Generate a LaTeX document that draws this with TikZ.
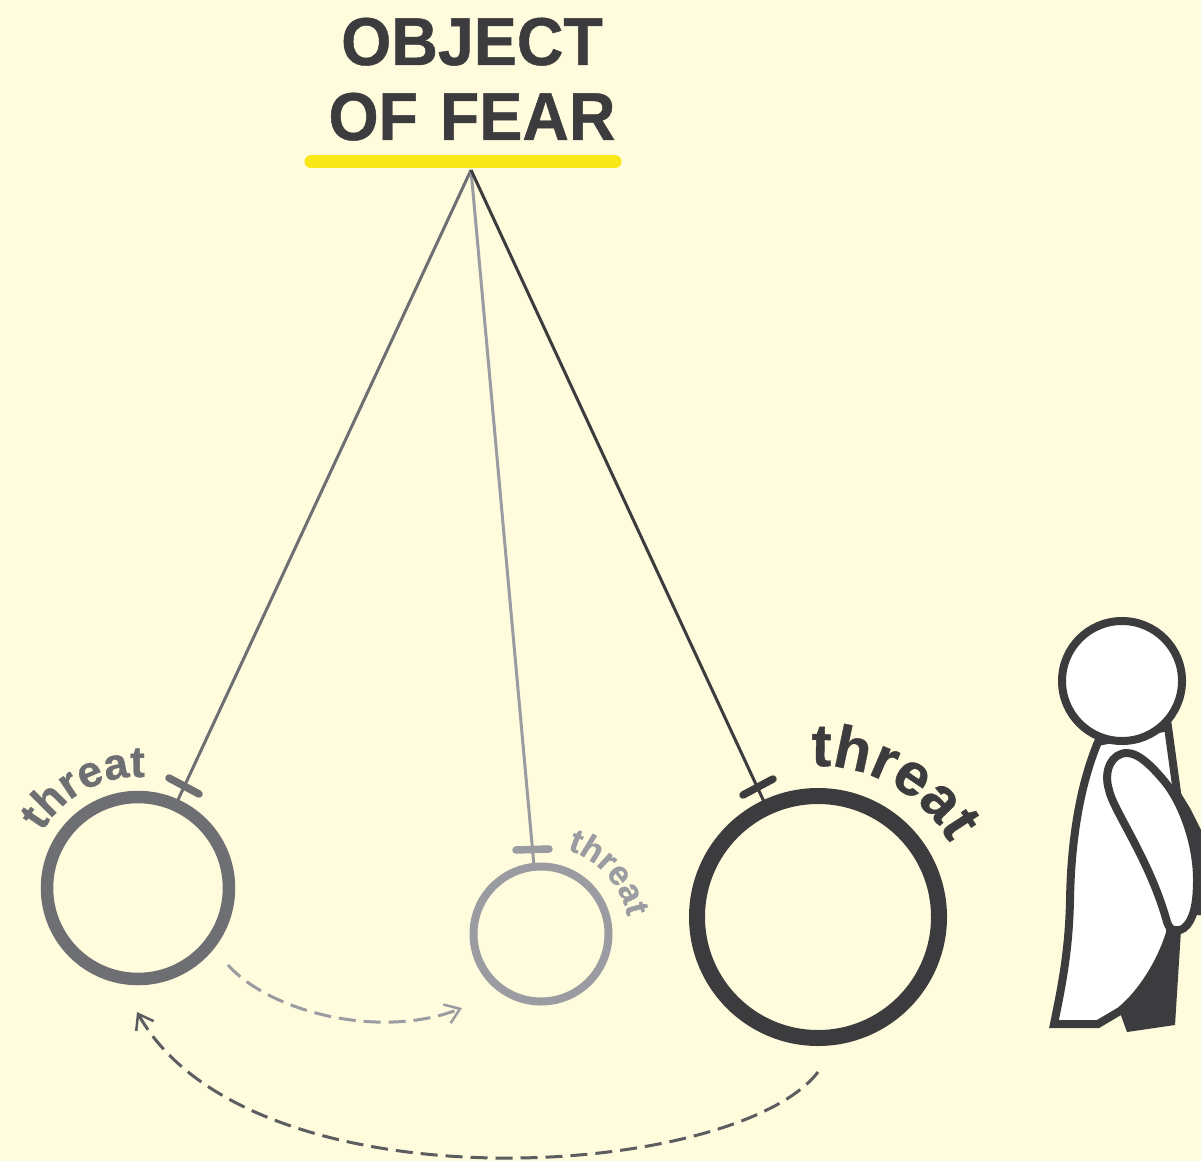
\documentclass[tikz,border=0pt]{standalone}
\usepackage{fontspec}
\setmainfont{Liberation Sans}[BoldFeatures={FakeBold=0.7}]
\usetikzlibrary{decorations.text,arrows.meta}
\definecolor{bgc}{HTML}{FEFCDC}
\definecolor{darkc}{HTML}{3C3C3E}
\definecolor{midc}{HTML}{6E6F73}
\definecolor{swingc}{HTML}{5C5D61}
\definecolor{lightc}{HTML}{9A9CA1}
\definecolor{yel}{HTML}{F9E815}
\tikzset{
 x=1pt,y=1pt,
 ring/.style={circle,draw,inner sep=0pt,fill=none},
 tbar/.style={line width=7.5pt,line cap=round},
 hang/.style={line width=3pt},
 swing/.style={line width=3pt,dash pattern=on 17pt off 8pt,-{Straight Barb[length=14pt,width=20pt,line width=2.5pt]}},
 figline/.style={draw=darkc,line width=8pt,line join=miter,miter limit=10,fill=white},
 title/.style={font=\fontsize{64.5}{64.5}\selectfont\bfseries,text=darkc,inner sep=0pt,anchor=base,yscale=1.05,transform shape}
}
\begin{document}
\begin{tikzpicture}
\useasboundingbox[fill=bgc] (0,0) rectangle (1201,-1161);
\node[title] (t1) at (472,-65) {OBJECT};
\node[title] (t2) at (472,-140) {OF\hspace{4pt} FEAR};
\draw[yel,line width=13pt,line cap=round] (311,-162) -- (615,-162);
\coordinate (apex) at (471,-170);
% rings
\node[ring,draw=midc,line width=12.5pt,minimum size=182pt] (r1) at (138,-888) {};
\node[ring,draw=lightc,line width=8pt,minimum size=135pt] (r2) at (541,-934) {};
\node[ring,draw=darkc,line width=16pt,minimum size=242pt] (r3) at (818,-917) {};
% hangers
\coordinate (e1) at (177,-802);
\coordinate (e2) at (534,-866);
\coordinate (e3) at (766,-806);
\draw[midc,hang] (apex) -- (e1);
\draw[lightc,hang] (apex) -- (e2);
\draw[darkc,hang] (apex) -- (e3);
\coordinate (b1a) at (169,-778); \coordinate (b1b) at (199,-794);
\coordinate (b2a) at (516,-850); \coordinate (b2b) at (549,-849);
\coordinate (b3a) at (743,-795); \coordinate (b3b) at (773,-779);
\draw[midc,tbar] (b1a) -- (b1b);
\draw[lightc,tbar] (b2a) -- (b2b);
\draw[darkc,tbar] (b3a) -- (b3b);
% curved labels
\path[decorate,decoration={text along path,text align=center,text color=midc,
 text format delimiters={|}{|},
 text={|\fontsize{44}{44}\selectfont\bfseries|threat}}]
 (138,-888) ++(166:111pt) arc[start angle=166,end angle=70,radius=111pt];
\path[decorate,decoration={text along path,text align=center,text color=lightc,
 text format delimiters={|}{|},
 text={|\fontsize{34}{34}\selectfont\bfseries|threat}}]
 (541,-934) ++(100:88pt) arc[start angle=100,end angle=-16,radius=88pt];
\path[decorate,decoration={text along path,text align=center,text color=darkc,
 text format delimiters={|}{|},
 text={|\fontsize{60}{60}\selectfont\bfseries|threat}}]
 (818,-917) ++(110:151pt) arc[start angle=110,end angle=12,radius=151pt];
% swings
\coordinate (s1) at (228,-965); \coordinate (s1e) at (462,-1008);
\draw[lightc,swing] (s1) .. controls (270,-1012) and (380,-1040) .. (s1e);
\coordinate (s2) at (818,-1072); \coordinate (s2e) at (137,-1012);
\draw[swingc,swing] (s2) .. controls (735,-1180) and (250,-1212) .. (s2e);
% figure
\fill[darkc] (1177,-787) -- (1190,-808) -- (1201,-830) -- (1201,-915) -- (1185,-915) -- (1170,-900) -- cycle;
\fill[darkc] (1168,-930) -- (1181,-930) -- (1175,-1025) -- (1127,-1032) -- (1119,-1010) -- cycle;
\path[figline] (1098,-742) .. controls (1080,-785) and (1071,-840) .. (1070,-900)
 .. controls (1069,-950) and (1062,-985) .. (1054,-1024) -- (1098,-1024) -- (1120,-1011)
 .. controls (1140,-995) and (1160,-965) .. (1170,-933)
 -- (1178,-800) -- (1168,-727) -- cycle;
\path[figline] (1127,-753) .. controls (1112,-753) and (1103,-770) .. (1109,-790)
 .. controls (1113,-810) and (1150,-860) .. (1167,-922)
 .. controls (1170,-932) and (1178,-932) .. (1184,-928)
 .. controls (1193,-921) and (1197,-905) .. (1197,-880)
 .. controls (1197,-840) and (1180,-800) .. (1165,-782)
 .. controls (1155,-770) and (1140,-753) .. (1127,-753) -- cycle;
\node[circle,draw=darkc,fill=white,line width=8pt,minimum size=120pt,inner sep=0pt] (head) at (1122,-681) {};
\end{tikzpicture}
\end{document}
